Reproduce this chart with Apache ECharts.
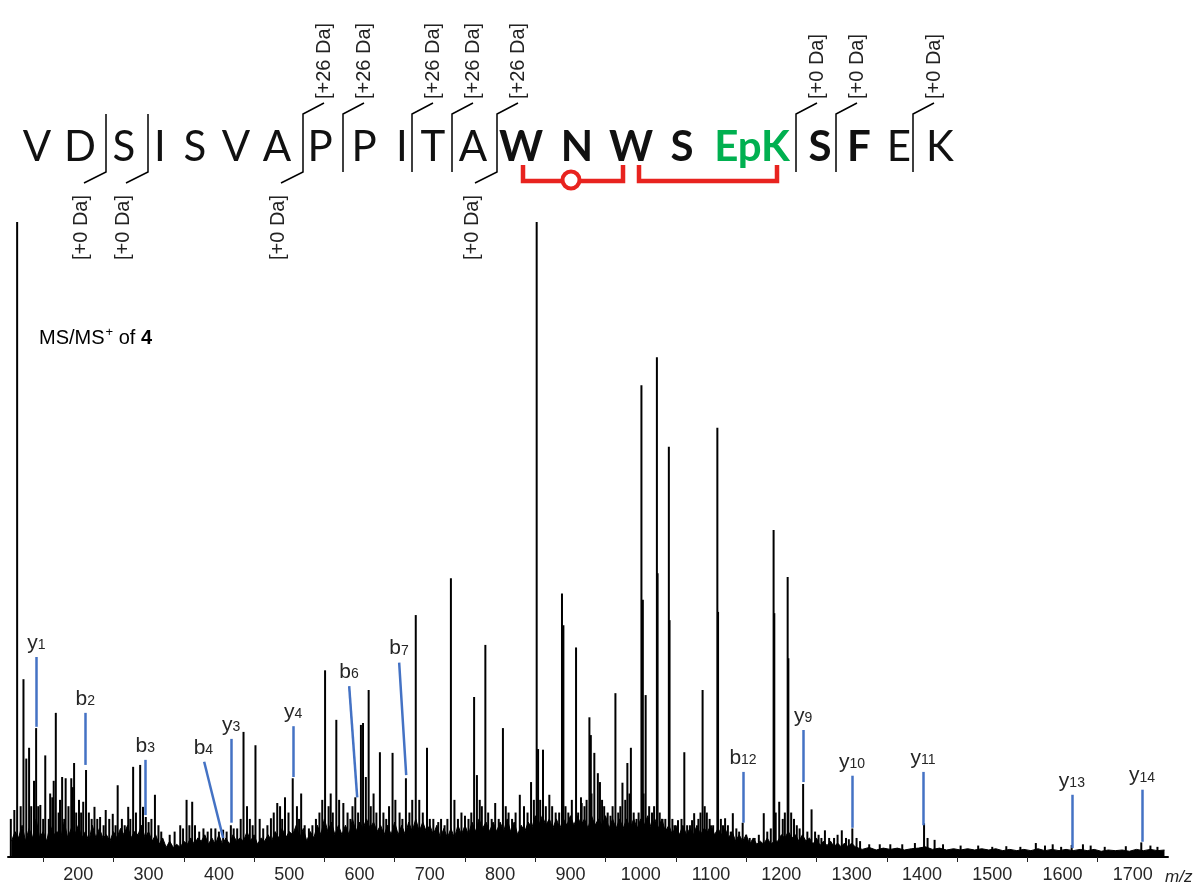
<!DOCTYPE html>
<html>
<head>
<meta charset="utf-8">
<script src="https://cdn.jsdelivr.net/npm/echarts@6/dist/echarts.min.js"></script>
<style>
  html, body { margin: 0; padding: 0; background: #fff; }
  #chart { width: 1202px; height: 887px; }
</style>
</head>
<body>
<div id="chart"></div>
<script>
// resolved fragment peaks [m/z, relative intensity %]
var majorPeaks = [
  [113, 100], [122, 28], [130, 17.2], [140, 20.3], [153, 16], [163, 9.4], [168, 22.7],
  [177, 12.6], [182, 12.4], [190, 12.4], [194, 14.8], [207, 8.7], [211, 13.7], [223, 7.9],
  [239, 7.4], [256, 11.3], [271, 7.9], [278, 14.2], [288, 14.5], [296, 6.3], [309, 9.8],
  [354, 9], [362, 8.7], [406, 4.3], [417, 5], [435, 19.7], [452, 17.6], [474, 6.1],
  [483, 8.5], [494, 9.4], [505, 12.4], [517, 10], [547, 9], [551, 29.4], [567, 21.6],
  [577, 8.5], [594, 9.4], [602, 20.8], [605, 21.1], [609, 12.6], [613, 26.3], [629, 16.5],
  [647, 16.4], [666, 12.4], [680, 38.1], [696, 17.2], [730, 43.9], [763, 25.2], [767, 12.9],
  [779, 33.4], [804, 20.3], [844, 11.8], [852, 100], [854, 17], [861, 16.9], [870, 9.8],
  [888, 41.5], [890, 36.5], [908, 33], [915, 9.4], [927, 22], [929, 19.2], [934, 16.4],
  [939, 13.2], [942, 11.8], [964, 25.8], [974, 11.7], [981, 14.8], [986, 17.2],
  [1001, 74.3], [1003, 40.5], [1007, 25.5], [1023, 78.7], [1024, 44.7], [1040, 64.6],
  [1041, 37.3], [1062, 16.5], [1076, 6.9], [1088, 26.3], [1109, 67.6], [1110, 38.6],
  [1120, 6.1], [1131, 6.9], [1145, 5.4], [1175, 6.9], [1189, 51.5], [1190, 38.4],
  [1197, 8.7], [1209, 44.1], [1210, 31.3], [1231, 11.5], [1243, 7.5], [1262, 4.2],
  [1286, 4.2], [1301, 4.5], [1403, 5.3], [1418, 2.7], [1562, 2.2], [1586, 2],
  [1613, 1.9], [1629, 2], [1712, 2.3]
];

// small peaks in the crowded baseline
var minorPeaks = [
  [104, 6], [109, 7.4], [118, 8], [126, 15.5], [133, 8], [137, 12], [143, 8], [146, 8.2],
  [150, 6], [158, 6], [160, 10], [165, 12], [172, 7], [174, 9], [180, 6], [186, 8],
  [192, 11], [197, 7], [201, 9], [204, 7], [215, 7], [219, 6], [227, 6], [231, 6.3],
  [236, 5], [244, 6], [249, 6.8], [253, 5], [262, 6], [266, 5], [274, 6], [282, 7],
  [292, 7.9], [300, 5.5], [304, 6], [314, 5], [318, 4], [330, 3.5], [337, 4], [345, 5],
  [349, 4.5], [358, 5], [366, 5], [372, 4], [378, 4.5], [384, 4], [389, 4.5], [395, 4.5],
  [400, 4], [411, 4], [421, 4.5], [426, 4.5], [431, 6], [440, 8], [444, 6], [448, 5],
  [458, 6], [463, 4.5], [469, 5], [478, 7], [487, 8], [490, 6], [499, 7], [511, 8],
  [514, 6], [522, 5], [528, 4.5], [533, 5], [538, 6], [543, 7], [556, 8], [559, 10],
  [562, 7], [571, 9], [583, 7], [587, 6], [590, 8], [598, 7], [616, 8], [620, 10],
  [624, 7], [634, 7], [638, 6], [642, 8], [651, 9], [657, 7], [661, 6], [671, 7],
  [675, 9], [685, 9], [690, 7], [700, 6], [705, 6], [712, 5.5], [716, 6], [721, 5],
  [725, 6], [735, 9], [740, 6], [745, 7], [750, 6.5], [755, 6], [759, 7], [771, 9],
  [774, 8], [783, 7], [788, 6], [793, 8.5], [798, 6], [808, 8], [812, 7], [817, 6],
  [822, 7], [828, 9.8], [834, 8], [839, 7], [848, 9], [857, 9], [865, 8], [874, 8],
  [879, 7], [884, 7], [893, 8], [897, 7], [902, 9], [911, 7], [916, 8.5], [920, 8],
  [923, 9], [930, 10], [945, 9], [948, 8], [953, 7], [957, 6.5], [960, 8], [968, 7],
  [971, 8], [978, 9], [984, 10], [990, 7], [994, 6], [997, 7], [1004, 10], [1012, 8],
  [1016, 7], [1019, 8], [1027, 7], [1031, 6], [1035, 6], [1045, 6], [1048, 5], [1053, 5.8],
  [1058, 6], [1066, 5], [1070, 5], [1073, 5.8], [1082, 6], [1085, 7], [1091, 8], [1094, 7],
  [1098, 6], [1103, 5], [1114, 6], [1117, 5], [1124, 5], [1128, 4], [1136, 4.5], [1140, 4],
  [1150, 3.5], [1155, 3], [1162, 3], [1168, 3.5], [1180, 4], [1185, 4.5], [1192, 7],
  [1202, 6], [1205, 7], [1214, 7], [1218, 6], [1222, 5], [1226, 4.5], [1237, 4], [1248, 4],
  [1253, 3.5], [1257, 3], [1268, 3], [1275, 3], [1280, 3.5], [1292, 3], [1296, 2.8],
  [1307, 3], [1312, 2.5], [1325, 2], [1340, 2], [1355, 2], [1372, 2], [1390, 2.2],
  [1408, 3], [1430, 2], [1455, 1.8], [1480, 1.8], [1500, 1.6], [1520, 1.7], [1540, 1.6],
  [1575, 1.8], [1598, 1.6], [1640, 1.8], [1660, 1.6], [1690, 1.7], [1725, 1.8], [1735, 1.6]
];

// baseline noise up to m/z 1300, read every 5 m/z starting at 105
var noiseLowStart = 105;
var noiseLowStep = 5;
var noiseLow = [
  2.5, 4, 3, 5, 2.5, 4.5, 3, 6, 3, 4, 2.5, 5, 3.5, 4, 3, 5.5, 3, 4.5, 3.5, 5,
  3, 4, 2.5, 5, 3, 4.5, 3, 3.5, 2.5, 4, 3, 4.5, 3.5, 5, 3, 4, 3.5, 5, 3, 4,
  2.5, 3.5, 2, 3, 1.5, 2.5, 1.5, 2, 1.5, 2.5, 2, 3, 2, 3, 2.5, 3.5, 2, 3, 2, 3.5,
  2, 3, 2, 3.5, 2.5, 3, 2.5, 4, 2.5, 3.5, 2, 3, 2.5, 3.5, 2.5, 4, 3, 4.5, 3, 4,
  3.5, 5, 3, 4.5, 2.5, 4, 3, 5, 3.5, 6, 4, 5.5, 3.5, 5, 3.5, 5, 3.5, 6, 4, 5.5,
  4.5, 6, 4.5, 5.5, 4, 5, 3.5, 5, 3.5, 5.5, 3.5, 5, 3.5, 5.5, 4, 6, 4, 5.5, 4, 5,
  3.5, 5, 3, 4.5, 3, 4.5, 3, 5, 3.5, 5, 3.5, 5.5, 4, 6, 4.5, 5.5, 4, 5.5, 4, 5.5,
  4, 6, 4, 5.5, 3.5, 5, 4, 5.5, 4.5, 6.5, 5, 6.5, 5, 6, 4.5, 6, 4.5, 6, 5, 6.5,
  5, 6.5, 5, 6, 4.5, 6.5, 5, 6, 5, 6.5, 4.5, 6, 4.5, 6, 4.5, 6, 4.5, 6, 4.5, 6,
  5, 6.5, 4.5, 6, 4.5, 6, 4, 5, 3.5, 5, 3.5, 5, 3.5, 4.5, 3.5, 5, 3.5, 4.5, 4, 5,
  3.5, 4.5, 3.5, 4.5, 3, 4, 2.5, 3.5, 2.5, 3.5, 2, 3, 2, 2.5, 2, 3, 2, 2.5, 2.5, 3.5,
  3, 4, 3, 3.5, 2.5, 3.5, 2.5, 3, 2, 3, 1.8, 2.5, 1.8, 2.5, 1.6, 2.2, 1.6, 2.2, 1.6, 2.2
];

// baseline noise above m/z 1300, read every 10 m/z starting at 1305
var noiseHighStart = 1305;
var noiseHighStep = 10;
var noiseHigh = [
  1.6, 1.2, 1.5, 1.1, 1.4, 1.2, 1.4, 1.1, 1.3, 1.4,
  1.6, 1.2, 1.4, 1.1, 1.3, 1.1, 1.3, 1.1, 1.3, 1.1,
  1.3, 1.0, 1.2, 1.0, 1.2, 1.0, 1.3, 1.0, 1.2, 1.0,
  1.2, 1.0, 1.2, 1.0, 1.2, 0.9, 1.1, 1.0, 1.1, 0.9,
  1.2, 1.0, 1.2, 1.0, 1.1
];

// assigned ions: name, label end [m/z, %], peak end [m/z, %]
var ionNames = ['y1', 'b2', 'b3', 'b4', 'y3', 'y4', 'b6', 'b7', 'b12', 'y9', 'y10', 'y11', 'y13', 'y14'];
var ionTop = [
  [140.3, 31.5], [210, 22.7], [295.3, 15.3], [379, 15], [417.5, 18.6], [505.7, 20.6],
  [585.3, 26.9], [656.4, 30.6], [1145.5, 13.4], [1230.9, 20], [1300.5, 12.8],
  [1401.5, 13.4], [1613.3, 9.8], [1712.9, 10.6]
];
var ionBottom = [
  [140.3, 20.5], [210, 14.5], [295.3, 6.6], [406, 3], [417.5, 5.4], [505.7, 12.6],
  [596.7, 9.4], [666.4, 12.9], [1145.5, 5.4], [1230.9, 11.8], [1300.5, 4.6],
  [1401.5, 5], [1613.3, 1.4], [1712.9, 2.4]
];

// m/z axis
var mzMin = 100;
var mzMax = 1750;
var mzStep = 100;

// peptide sequence drawn above the spectrum
var seqLetters = ['V', 'D', 'S', 'I', 'S', 'V', 'A', 'P', 'P', 'I', 'T', 'A', 'W', 'N', 'W', 'S', 'EpK', 'S', 'F', 'E', 'K'];
var seqKind = ['n', 'n', 'n', 'n', 'n', 'n', 'n', 'n', 'n', 'n', 'n', 'n', 'b', 'b', 'b', 'b', 'g', 'b', 'b', 'n', 'n'];
var cutLabels = [
  { top: null, bottom: '[+0 Da]' },
  { top: null, bottom: '[+0 Da]' },
  { top: '[+26 Da]', bottom: '[+0 Da]' },
  { top: '[+26 Da]', bottom: null },
  { top: '[+26 Da]', bottom: null },
  { top: '[+26 Da]', bottom: null },
  { top: '[+26 Da]', bottom: '[+0 Da]' },
  { top: '[+0 Da]', bottom: null },
  { top: '[+0 Da]', bottom: null },
  { top: '[+0 Da]', bottom: null }
];

// ---- layout of the sequence drawing (pixels) ----
var seqX = [37, 80, 124, 160, 195, 236, 277, 320, 364, 402, 433, 473, 521, 577, 631, 682, 752, 820, 859, 899, 940];
var seqY = 147;
var cutX = [106, 148, 303, 343, 412, 452, 497, 796, 836, 913];
var red = '#e8231f';
var labelFont = '"Liberation Sans", Arial, sans-serif';

var graphics = [];
seqLetters.forEach(function (s, i) {
  var k = seqKind[i];
  graphics.push({
    type: 'text', x: seqX[i], y: seqY, z: 10,
    style: {
      text: s,
      font: (k === 'n' ? 'normal' : 'bold') + ' 42px Lato, "Open Sans", sans-serif',
      fill: k === 'g' ? '#00b050' : '#111',
      align: 'center', verticalAlign: 'middle',
      textAlign: 'center', textVerticalAlign: 'middle'
    }
  });
});

cutX.forEach(function (x, i) {
  var c = cutLabels[i];
  var pts = [];
  if (c.top) pts.push([x + 21, 103]);
  pts.push([x, 114]);
  pts.push([x, 172]);
  if (c.bottom) pts.push([x - 22, 183]);
  graphics.push({
    type: 'polyline', z: 10,
    shape: { points: pts },
    style: { stroke: '#000', lineWidth: 1.5, fill: null }
  });
  if (c.top) {
    graphics.push({
      type: 'text', x: x + 21, y: 99, rotation: Math.PI / 2, z: 10,
      style: {
        text: c.top, font: '20px ' + labelFont, fill: '#222',
        align: 'left', verticalAlign: 'middle',
        textAlign: 'left', textVerticalAlign: 'middle'
      }
    });
  }
  if (c.bottom) {
    graphics.push({
      type: 'text', x: x - 25, y: 260, rotation: Math.PI / 2, z: 10,
      style: {
        text: c.bottom, font: '20px ' + labelFont, fill: '#222',
        align: 'left', verticalAlign: 'middle',
        textAlign: 'left', textVerticalAlign: 'middle'
      }
    });
  }
});

// red crosslink brackets under W N W and W S EpK
graphics.push(
  { type: 'polyline', z: 10, shape: { points: [[523, 165], [523, 181], [562, 181]] },
    style: { stroke: red, lineWidth: 4.5, fill: null } },
  { type: 'polyline', z: 10, shape: { points: [[580, 181], [623, 181], [623, 165]] },
    style: { stroke: red, lineWidth: 4.5, fill: null } },
  { type: 'circle', z: 11, shape: { cx: 571, cy: 180, r: 8.5 },
    style: { stroke: red, lineWidth: 4, fill: '#fff' } },
  { type: 'polyline', z: 10, shape: { points: [[639, 165], [639, 181], [777, 181], [777, 165]] },
    style: { stroke: red, lineWidth: 4.5, fill: null } }
);

// panel title and axis unit
graphics.push(
  { type: 'text', x: 39, y: 337, z: 10,
    style: {
      text: '{n|MS/MS}{p|+}{n| of }{b|4}',
      verticalAlign: 'middle', textVerticalAlign: 'middle',
      rich: {
        n: { fontSize: 20, fontFamily: labelFont, color: '#111', verticalAlign: 'bottom' },
        p: { fontSize: 13, fontFamily: labelFont, color: '#111', verticalAlign: 'bottom', padding: [0, 0, 9, 1] },
        b: { fontSize: 20, fontWeight: 'bold', fontFamily: labelFont, color: '#111', verticalAlign: 'bottom' }
      }
    } },
  { type: 'text', x: 1165, y: 877, z: 10,
    style: {
      text: 'm/z', font: 'italic 17px ' + labelFont, fill: '#222',
      verticalAlign: 'middle', textVerticalAlign: 'middle'
    } }
);

var peaks = majorPeaks.concat(minorPeaks).sort(function (a, b) { return a[0] - b[0]; });
var noise = noiseLow.map(function (v, i) { return [noiseLowStart + i * noiseLowStep, v]; })
  .concat(noiseHigh.map(function (v, i) { return [noiseHighStart + i * noiseHighStep, v]; }));

var ionLines = ionNames.map(function (n, i) {
  return [
    { name: n, coord: ionTop[i] },
    { coord: ionBottom[i] }
  ];
});

var chart = echarts.init(document.getElementById('chart'));
chart.setOption({
  animation: false,
  backgroundColor: '#fff',
  grid: { left: 8, right: 34, top: 222, bottom: 30 },
  xAxis: {
    type: 'value',
    min: mzMin,
    max: mzMax,
    interval: mzStep,
    axisLine: { show: true, lineStyle: { color: '#000', width: 2 } },
    axisTick: { show: false },
    minorTick: { show: true, splitNumber: 2, length: 5, lineStyle: { color: '#222', width: 1 } },
    splitLine: { show: false },
    minorSplitLine: { show: false },
    axisLabel: {
      margin: 9,
      fontSize: 18,
      fontFamily: labelFont,
      color: '#262626',
      formatter: function (v) { return v >= 200 && v <= 1700 ? String(v) : ''; }
    }
  },
  yAxis: {
    type: 'value', min: 0, max: 100, show: false
  },
  series: [
    {
      type: 'line',
      data: noise,
      symbol: 'none',
      lineStyle: { color: '#000', width: 1 },
      areaStyle: { color: '#000', opacity: 1 },
      z: 2,
      silent: true
    },
    {
      type: 'bar',
      data: peaks,
      barWidth: 2,
      itemStyle: { color: '#000' },
      z: 3,
      silent: true,
      markLine: {
        silent: true,
        symbol: ['none', 'none'],
        lineStyle: { color: '#4472c4', width: 2.5, type: 'solid' },
        label: {
          show: true,
          position: 'start',
          distance: 3,
          formatter: function (p) {
            var m = p.name.match(/^([a-z])(\d+)$/);
            return '{m|' + m[1] + '}{s|' + m[2] + '}';
          },
          rich: {
            m: { fontSize: 21, fontFamily: labelFont, color: '#262626', verticalAlign: 'bottom', height: 22 },
            s: { fontSize: 14, fontFamily: labelFont, color: '#262626', verticalAlign: 'bottom', height: 18 }
          }
        },
        data: ionLines
      }
    }
  ],
  graphic: { elements: graphics }
});
</script>
</body>
</html>
